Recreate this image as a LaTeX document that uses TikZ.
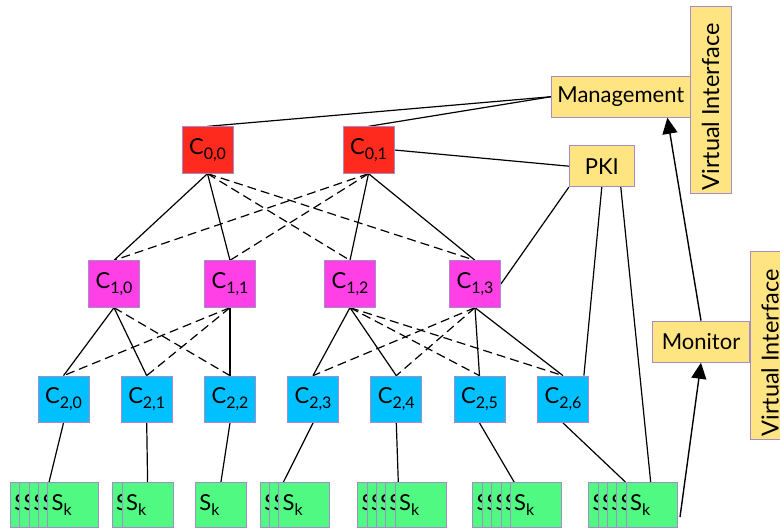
\documentclass[tikz,border=0pt]{standalone}
\usepackage{fontspec}
\setmainfont{Lato}
\usetikzlibrary{calc,arrows.meta,backgrounds}
\definecolor{cred}{RGB}{255,42,30}
\definecolor{cmag}{RGB}{255,64,230}
\definecolor{ccyan}{RGB}{0,192,255}
\definecolor{cgreen}{RGB}{80,250,130}
\definecolor{cyel}{RGB}{255,228,130}
\definecolor{cbord}{RGB}{165,140,200}
\newcommand{\Cl}[1]{C\raisebox{-0.45ex}{\fontsize{16}{16}\selectfont #1}}
\newcommand{\Sk}{S\raisebox{-0.45ex}{\fontsize{16}{16}\selectfont k}}
\tikzset{
  box/.style={draw=cbord, line width=0.8pt, inner sep=0pt, minimum width=51pt, minimum height=46.5pt, font=\fontsize{22}{26}\selectfont},
  lvlzero/.style={box, fill=cred},
  lvlone/.style={box, fill=cmag},
  lvltwo/.style={box, fill=ccyan},
  skbox/.style={draw=cbord, line width=0.8pt, fill=cgreen, anchor=west, minimum height=45pt, inner xsep=4pt, inner ysep=0pt, text width=43pt, align=left, font=\fontsize{22}{26}\selectfont},
  ybox/.style={draw=cbord, line width=0.8pt, fill=cyel, inner sep=0pt, font=\fontsize{22}{26}\selectfont},
  vtext/.style={rotate=90, font=\fontsize{23.5}{27}\selectfont, inner sep=0pt},
  sol/.style={line width=1.2pt},
  dsh/.style={line width=1.2pt, dash pattern=on 9pt off 5pt},
  arr/.style={line width=1.4pt, -{Triangle[length=16pt,width=15pt]}}
}
\begin{document}
\begin{tikzpicture}[x=1pt,y=-1pt]
\useasboundingbox (0,0) rectangle (780,529);
% level 0
\node[lvlzero] (c00) at (207.5,150) {\Cl{0,0}};
\node[lvlzero] (c01) at (368.5,150) {\Cl{0,1}};
% level 1
\node[lvlone] (c10) at (114,284) {\Cl{1,0}};
\node[lvlone] (c11) at (230,284) {\Cl{1,1}};
\node[lvlone] (c12) at (350,284) {\Cl{1,2}};
\node[lvlone] (c13) at (475,284) {\Cl{1,3}};
% level 2
\node[lvltwo] (c20) at (63.5,399.3) {\Cl{2,0}};
\node[lvltwo] (c21) at (146.7,399.3) {\Cl{2,1}};
\node[lvltwo] (c22) at (230,399.3) {\Cl{2,2}};
\node[lvltwo] (c23) at (313,399.3) {\Cl{2,3}};
\node[lvltwo] (c24) at (396.3,399.3) {\Cl{2,4}};
\node[lvltwo] (c25) at (479.5,399.3) {\Cl{2,5}};
\node[lvltwo] (c26) at (563,399.3) {\Cl{2,6}};
% S_k stacks
\foreach \l in {10,19.3,29.3,38.3} {\node[skbox] at (\l,505.2) {\Sk};}
\node[skbox] (s1) at (47.3,505.2) {\Sk};
\foreach \l in {111.7} {\node[skbox] at (\l,505.2) {\Sk};}
\node[skbox] (s2) at (121.7,505.2) {\Sk};
\node[skbox] (s3) at (195,505.2) {\Sk};
\foreach \l in {260,269.3} {\node[skbox] at (\l,505.2) {\Sk};}
\node[skbox] (s4) at (278.3,505.2) {\Sk};
\foreach \l in {357.3,366.7,375.7,385} {\node[skbox] at (\l,505.2) {\Sk};}
\node[skbox] (s5) at (394.7,505.2) {\Sk};
\foreach \l in {472.3,482.3,491.3,500.7} {\node[skbox] at (\l,505.2) {\Sk};}
\node[skbox] (s6) at (509.7,505.2) {\Sk};
\foreach \l in {588.3,597.7,607,616.3} {\node[skbox] at (\l,505.2) {\Sk};}
\node[skbox] (s7) at (625.7,505.2) {\Sk};
% yellow boxes
\node[ybox, minimum width=138.3pt, minimum height=41.3pt] (mgmt) at (620.8,96.7) {Management};
\node[ybox, minimum width=65pt, minimum height=41pt] (pki) at (601.8,166.2) {PKI};
\node[ybox, minimum width=96.6pt, minimum height=41.3pt] (mon) at (701,341.7) {Monitor};
\node[ybox, minimum width=41.7pt, minimum height=186.6pt] (vi1) at (710.8,100) {};
\node[vtext] (vt1) at (710.5,107) {Virtual Interface};
\node[ybox, minimum width=41.7pt, minimum height=187.3pt] (vi2) at (770.8,345.5) {};
\node[vtext] (vt2) at (770,353) {Virtual Interface};
\coordinate (src) at (680,517);
\begin{scope}[on background layer]
% top to management / PKI
\draw[sol] (c00.north) -- (mgmt.west);
\draw[sol] (c01.north) -- (mgmt.west);
\draw[sol] (c01.east) -- (pki.west);
\draw[sol] (pki.south west) -- (c13.east);
\draw[sol] (pki.south) -- ($(c26.north east)+(-5,0)$);
\draw[sol] ($(pki.south)+(19,0)$) -- ($(s7.north west)+(25,0)$);
% level 0 -> 1
\draw[sol] (c00.south) -- (c10.north);
\draw[sol] (c00.south) -- (c11.north);
\draw[dsh] (c00.south) -- (c12.north);
\draw[dsh] (c00.south) -- (c13.north);
\draw[sol] (c01.south) -- (c12.north);
\draw[sol] (c01.south) -- (c13.north);
\draw[dsh] (c01.south) -- (c10.north);
\draw[dsh] (c01.south) -- (c11.north);
% level 1 -> 2
\draw[sol] (c10.south) -- (c20.north);
\draw[sol] (c10.south) -- (c21.north);
\draw[dsh] (c10.south) -- (c22.north);
\draw[sol] (c11.south) -- (c22.north);
\draw[dsh] (c11.south) -- (c20.north);
\draw[dsh] (c11.south) -- (c21.north);
\draw[sol] (c12.south) -- (c23.north);
\draw[sol] (c12.south) -- (c24.north);
\draw[dsh] (c12.south) -- (c25.north);
\draw[dsh] (c12.south) -- (c26.north);
\draw[sol] (c13.south) -- (c25.north);
\draw[sol] (c13.south) -- (c26.north);
\draw[dsh] (c13.south) -- (c23.north);
\draw[dsh] (c13.south) -- (c24.north);
% level 2 -> S_k
\draw[sol] (c20.south) -- ($(s1.north west)+(1.7,0)$);
\draw[sol] (c21.south) -- (s2.north);
\draw[sol] (c22.south) -- (s3.north);
\draw[sol] (c23.south) -- ($(s4.north west)+(5,0)$);
\draw[sol] (c24.south) -- ($(s5.north west)+(3.6,0)$);
\draw[sol] (c25.south) -- ($(s6.north west)+(4.6,0)$);
\draw[sol] (c26.south) -- ($(s7.north west)+(0,0)$);
\end{scope}
% arrows
\draw[arr] (src) -- (mon.south);
\draw[arr] (mon.north) -- ($(mgmt.south east)+(-23,0)$);
\end{tikzpicture}
\end{document}
